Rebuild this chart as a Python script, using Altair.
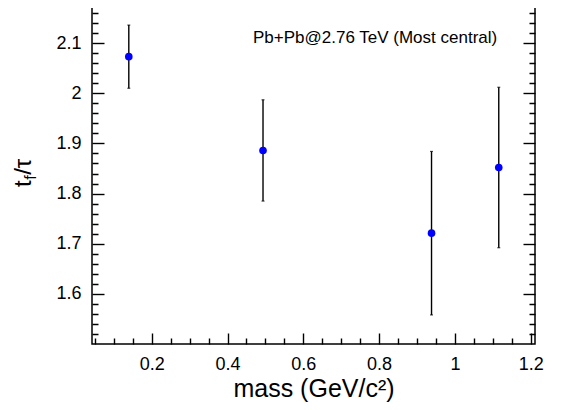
import altair as alt
import pandas as pd

# ---- data ----
particle = ["pi", "K", "p", "Lambda"]
mass = [0.1396, 0.4937, 0.9383, 1.1157]
ratio = [2.073, 1.886, 1.721, 1.852]
err = [0.063, 0.101, 0.163, 0.160]

label_text = "Pb+Pb@2.76 TeV (Most central)"
x_title = "mass (GeV/c\u00b2)"

x_domain = [0.0425, 1.2113]
y_domain = [1.5, 2.194]

# axis tick positions (major + minor)
x_ticks = [round(0.05 * i, 2) for i in range(1, 25)]
y_ticks = [round(1.5 + 0.02 * i, 2) for i in range(1, 35)]

df = pd.DataFrame({
    "particle": particle,
    "mass": mass,
    "ratio": ratio,
    "lo": [r - e for r, e in zip(ratio, err)],
    "hi": [r + e for r, e in zip(ratio, err)],
})

FONT = "Liberation Sans"
xscale = alt.Scale(domain=x_domain, nice=False, zero=False)
yscale = alt.Scale(domain=y_domain, nice=False, zero=False)

x_major = "abs(datum.value*5 - round(datum.value*5)) < 0.001"
y_major = "abs(datum.value*10 - round(datum.value*10)) < 0.001"


def make_axis(orient, values, major_test, size, minor, labels, title=None, **kw):
    return alt.Axis(
        orient=orient,
        values=values,
        offset=-size,
        tickSize=size,
        tickWidth=1.4,
        tickColor="black",
        tickDash={"condition": {"test": major_test, "value": [100, 0]},
                  "value": [0, size - minor, minor, 0]},
        domain=False,
        grid=False,
        labels=labels,
        labelExpr=f"{major_test} ? format(datum.value, '.1~f') : ''",
        labelFont=FONT,
        labelFontSize=18,
        labelColor="black",
        labelOverlap=False,
        labelFlush=False,
        title=title,
        **kw,
    )


bottom_axis = make_axis("bottom", x_ticks, x_major, 11, 6, True, title=x_title,
                        labelPadding=11, titleFont=FONT, titleFontSize=25,
                        titleFontWeight="normal", titleColor="black",
                        titleBaseline="alphabetic", titleY=63.7)
top_axis = make_axis("top", x_ticks, x_major, 11, 6, False)
left_axis = make_axis("left", y_ticks, y_major, 12, 6, True, labelPadding=11)
right_axis = make_axis("right", y_ticks, y_major, 12, 6, False)

base = alt.Chart(df)

bars = base.mark_rule(color="black", strokeWidth=1.4).encode(
    x=alt.X("mass:Q", scale=xscale, axis=top_axis),
    y=alt.Y("lo:Q", scale=yscale, axis=right_axis),
    y2="hi:Q",
)

cap_lo = base.mark_tick(orient="horizontal", size=3, thickness=1.2, color="black").encode(
    x=alt.X("mass:Q", scale=xscale, axis=None),
    y=alt.Y("lo:Q", scale=yscale, axis=None),
)
cap_hi = base.mark_tick(orient="horizontal", size=3, thickness=1.2, color="black").encode(
    x=alt.X("mass:Q", scale=xscale, axis=None),
    y=alt.Y("hi:Q", scale=yscale, axis=None),
)

points = base.mark_circle(color="#0000ff", size=58, opacity=1).encode(
    x=alt.X("mass:Q", scale=xscale, axis=bottom_axis),
    y=alt.Y("ratio:Q", scale=yscale, axis=left_axis),
)

one = alt.Chart(pd.DataFrame({"k": [0]}))

label = one.mark_text(text=label_text, font=FONT, fontSize=17, color="black",
                      align="left", baseline="alphabetic").encode(
    x=alt.value(161), y=alt.value(46.7))

yt_t = one.mark_text(text="t", font=FONT, fontSize=24, color="black", angle=270,
                     align="left", baseline="alphabetic").encode(
    x=alt.value(-61.0), y=alt.value(191.0))
yt_f = one.mark_text(text="f", font=FONT, fontSize=16, color="black", angle=270,
                     align="left", baseline="alphabetic").encode(
    x=alt.value(-56.0), y=alt.value(183.8))
yt_rest = one.mark_text(text="/\u03c4", font=FONT, fontSize=24, color="black", angle=270,
                        align="left", baseline="alphabetic").encode(
    x=alt.value(-61.0), y=alt.value(178.8))

chart = alt.layer(
    bars, cap_lo, cap_hi, points, label, yt_t, yt_f, yt_rest
).resolve_axis(
    x="independent", y="independent"
).properties(
    width=443,
    height=348,
    padding={"left": 84, "top": -12, "right": 19, "bottom": 60},
    autosize=alt.AutoSizeParams(type="none"),
).configure(
    font=FONT,
).configure_view(
    stroke="black", strokeWidth=1.5,
)

chart.save("out.html", embed_options={"renderer": "svg", "actions": False})
